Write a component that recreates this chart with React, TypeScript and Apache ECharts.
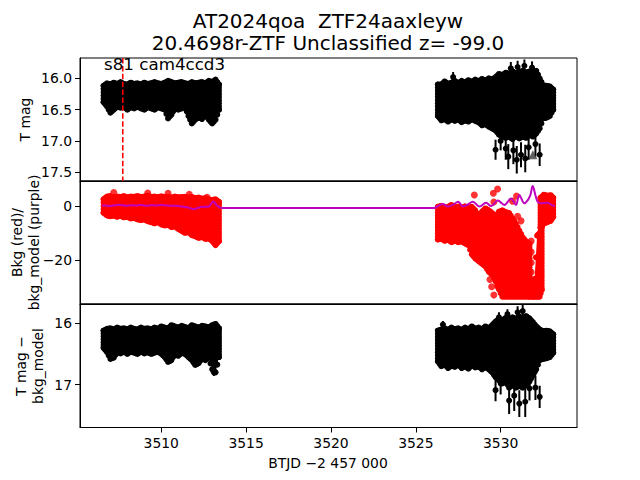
import React, { useEffect, useRef } from "react";
import * as echarts from "echarts";

// ---------- texts ----------
const TITLE_1 = "AT2024qoa  ZTF24aaxleyw";
const TITLE_2 = "20.4698r-ZTF Unclassified z= -99.0";
const SECTOR_LABEL = "s81 cam4ccd3";
const X_LABEL = "BTJD \u22122 457 000";
const Y_LABEL_TOP = "T mag";
const Y_LABEL_MID = "Bkg (red)/\nbkg_model (purple)";
const Y_LABEL_BOT = "T mag \u2212\nbkg_model";

// ---------- ticks ----------
const X_TICKS = [3510, 3515, 3520, 3525, 3530];
const Y_TICKS_TOP = [16.0, 16.5, 17.0, 17.5];
const Y_TICKS_MID = [-20, 0];
const Y_TICKS_BOT = [16, 17];

// ---------- sector start marker ----------
const SECTOR_START = 3507.73;

// ---------- time grids of the two orbits (envelopes of dense point clouds) ----------
const T_LEFT = [3506.6, 3506.8, 3507.0, 3507.2, 3507.4, 3507.6, 3507.8, 3508.0, 3508.2, 3508.4, 3508.6, 3508.8, 3509.0, 3509.2, 3509.4, 3509.6, 3509.8, 3510.0, 3510.2, 3510.4, 3510.6, 3510.8, 3511.0, 3511.2, 3511.4, 3511.6, 3511.8, 3512.0, 3512.2, 3512.4, 3512.6, 3512.8, 3513.0, 3513.2, 3513.4];
const T_RIGHT = [3526.3, 3526.5, 3526.7, 3526.9, 3527.1, 3527.3, 3527.5, 3527.7, 3527.9, 3528.1, 3528.3, 3528.5, 3528.7, 3528.9, 3529.1, 3529.3, 3529.5, 3529.7, 3529.9, 3530.1, 3530.3, 3530.5, 3530.7, 3530.9, 3531.1, 3531.3, 3531.5, 3531.7, 3531.9, 3532.1, 3532.3, 3532.5, 3532.7, 3532.9, 3533.1];

// ---------- top panel: T mag envelope ----------
const TOP_LEFT_HI = [16.12, 16.08, 16.1, 16.07, 16.09, 16.06, 16.09, 16.1, 16.07, 16.09, 16.08, 16.1, 16.07, 16.09, 16.08, 16.06, 16.08, 16.09, 16.07, 16.04, 16.06, 16.08, 16.07, 16.06, 16.08, 16.09, 16.06, 16.08, 16.07, 16.06, 16.08, 16.04, 16.06, 16.02, 16.1];
const TOP_LEFT_LO = [16.38, 16.45, 16.55, 16.5, 16.45, 16.47, 16.45, 16.5, 16.46, 16.48, 16.45, 16.48, 16.5, 16.46, 16.48, 16.5, 16.46, 16.48, 16.5, 16.64, 16.58, 16.48, 16.5, 16.48, 16.46, 16.6, 16.72, 16.66, 16.62, 16.65, 16.58, 16.66, 16.72, 16.66, 16.5];
const TOP_RIGHT_HI = [16.1, 16.1, 16.05, 16.09, 16.07, 16.04, 16.08, 16.04, 16.07, 16.03, 16.06, 16.02, 16.05, 16.01, 16.04, 16.0, 16.02, 15.98, 15.93, 15.95, 15.91, 15.93, 15.89, 15.92, 15.9, 15.88, 15.91, 15.89, 15.91, 15.88, 16.0, 16.11, 16.12, 16.13, 16.18];
const TOP_RIGHT_LO = [16.6, 16.67, 16.65, 16.69, 16.65, 16.68, 16.65, 16.7, 16.67, 16.69, 16.65, 16.68, 16.7, 16.75, 16.73, 16.77, 16.8, 16.83, 16.9, 16.92, 16.95, 16.93, 16.97, 16.92, 16.96, 16.93, 16.95, 16.9, 16.93, 16.88, 16.8, 16.64, 16.63, 16.6, 16.5];
// isolated points with error bars: [time, mag, error]
const TOP_ERR_POINTS = [
  [3527.2, 15.98, 0.08], [3529.7, 17.14, 0.16], [3530.0, 17.0, 0.15], [3530.3, 17.12, 0.18],
  [3530.45, 17.25, 0.2], [3530.75, 17.15, 0.22], [3530.95, 17.3, 0.22], [3531.2, 17.22, 0.2],
  [3531.45, 17.28, 0.22], [3531.65, 17.1, 0.2], [3532.05, 17.05, 0.2], [3532.3, 17.22, 0.18],
  [3530.6, 15.84, 0.1], [3531.0, 15.82, 0.1], [3531.4, 15.8, 0.1], [3531.85, 15.83, 0.1],
];
const TOP_TRIANGLE = [[3531.9, 17.22]];

// ---------- middle panel: background (red) envelope ----------
const MID_LEFT_HI = [2.5, 3.5, 3.7, 3.2, 3.5, 3.3, 3.7, 3.1, 3.5, 3.4, 3.7, 3.3, 3.5, 3.8, 3.4, 3.5, 3.2, 3.6, 3.3, 3.4, 3.1, 3.5, 3.2, 3.3, 3.4, 3.1, 3.3, 2.9, 3.1, 2.7, 2.9, 2.4, 2.2, 2.5, 1.5];
const MID_LEFT_LO = [-2.5, -3.5, -3.8, -3.5, -4.0, -3.6, -4.2, -4.0, -4.6, -4.4, -5.0, -5.2, -5.0, -5.6, -6.0, -6.4, -6.0, -6.8, -7.2, -7.0, -7.8, -7.5, -8.5, -9.2, -10.0, -9.6, -10.8, -11.2, -11.8, -11.5, -12.2, -12.0, -13.0, -14.5, -13.0];
const T_MID_A = [3526.3, 3526.5, 3526.7, 3526.9, 3527.1, 3527.3, 3527.5, 3527.7, 3527.9, 3528.1, 3528.3, 3528.5, 3528.7, 3528.9, 3529.1, 3529.3, 3529.5, 3529.7, 3529.9, 3530.1, 3530.3, 3530.5, 3530.7, 3530.9, 3531.1, 3531.3, 3531.5, 3531.7];
const MID_A_HI = [-0.3, 0.1, -0.6, -0.3, 0.4, -0.5, -0.2, -0.8, -0.1, -0.6, -0.3, -1.6, -3.6, -2.1, -0.9, -1.6, -2.6, -3.9, -2.1, -1.6, -2.3, -2.6, -4.6, -6.6, -9.1, -11.6, -13.1, -14.0];
const MID_A_LO = [-12.4, -12.1, -12.9, -12.4, -13.4, -12.9, -13.4, -13.1, -13.9, -14.5, -17.9, -19.4, -20.4, -21.4, -22.4, -24.4, -25.4, -27.9, -30.9, -33.6, -33.6, -33.6, -33.6, -33.6, -33.6, -33.6, -33.6, -33.6];
const T_MID_B = [3531.85, 3532.0, 3532.15, 3532.3, 3532.42];
const MID_B_HI = [-28.0, -27.0, -11.0, -10.0, -8.0];
const MID_B_LO = [-33.6, -33.6, -33.6, -33.6, -31.0];
const T_MID_C = [3532.35, 3532.55, 3532.75, 3532.95, 3533.1];
const MID_C_HI = [3.0, 4.2, 3.8, 4.0, 3.0];
const MID_C_LO = [-8.0, -6.5, -6.0, -5.5, -4.0];
// isolated background points: [time, value]
const MID_POINTS = [
  [3507.2, 5.0], [3509.2, 4.8], [3510.4, 4.7], [3511.65, 4.3], [3512.7, 3.2],
  [3528.45, 4.1], [3529.57, 4.7], [3529.82, 6.3], [3529.6, 1.5], [3530.94, 3.7], [3530.7, 1.8],
  [3531.0, -3.8], [3531.2, -5.5], [3529.37, -27.2], [3529.47, -29.9], [3529.6, -33.0],
  [3529.85, -30.0], [3531.8, -13.0], [3531.8, -17.0], [3531.8, -21.0], [3531.8, -24.5],
];
// background model (purple)
const MODEL_T = [3506.5, 3506.7, 3507.0, 3507.3, 3507.6, 3507.9, 3508.2, 3508.5, 3508.8, 3509.1, 3509.4, 3509.7, 3510.0, 3510.3, 3510.7, 3511.0, 3511.3, 3511.6, 3511.9, 3512.2, 3512.5, 3512.8, 3513.06, 3513.26, 3513.45, 3513.6, 3526.1, 3526.3, 3526.6, 3526.9, 3527.2, 3527.5, 3527.77, 3528.05, 3528.36, 3528.75, 3529.14, 3529.44, 3529.83, 3530.22, 3530.61, 3530.9, 3531.1, 3531.4, 3531.6, 3531.75, 3531.89, 3532.05, 3532.18, 3532.38, 3532.77, 3533.06, 3533.2];
const MODEL_V = [0.3, 0.2, 0.0, 0.3, 0.5, 0.1, 0.3, 0.2, 0.4, 0.1, 0.3, 0.2, 0.4, 0.2, 0.1, 0.0, -0.3, -0.6, -1.2, -0.6, -0.3, -0.2, 1.7, 0.3, -0.6, -0.7, -0.7, 0.0, 0.7, -0.2, 0.5, 1.6, -0.2, 0.5, 1.6, -0.2, 1.2, 0.0, 2.0, 0.4, 2.8, 0.4, 4.1, 1.0, 2.2, 4.0, 7.4, 4.0, 1.6, 1.0, 1.2, 0.2, 0.0];

// ---------- bottom panel: T mag - bkg_model envelope ----------
const BOT_LEFT_HI = [16.12, 16.09, 16.08, 16.1, 16.07, 16.09, 16.08, 16.1, 16.07, 16.09, 16.1, 16.07, 16.09, 16.08, 16.1, 16.07, 16.09, 16.05, 16.07, 16.08, 16.03, 16.05, 16.07, 16.04, 16.06, 16.08, 16.03, 16.05, 16.07, 16.04, 16.05, 16.07, 16.03, 16.01, 16.08];
const BOT_LEFT_LO = [16.4, 16.47, 16.58, 16.56, 16.47, 16.49, 16.46, 16.5, 16.46, 16.48, 16.5, 16.46, 16.49, 16.47, 16.5, 16.48, 16.46, 16.5, 16.55, 16.63, 16.6, 16.5, 16.53, 16.48, 16.5, 16.55, 16.6, 16.68, 16.65, 16.57, 16.6, 16.56, 16.75, 16.8, 16.55];
const BOT_RIGHT_HI = [16.12, 16.1, 16.08, 16.11, 16.07, 16.1, 16.08, 16.11, 16.07, 16.1, 16.05, 16.09, 16.07, 16.1, 16.05, 16.08, 16.03, 15.97, 15.93, 15.95, 15.91, 15.94, 15.9, 15.93, 15.89, 15.92, 15.88, 15.92, 15.98, 16.05, 16.1, 16.13, 16.12, 16.13, 16.18];
const BOT_RIGHT_LO = [16.62, 16.7, 16.67, 16.73, 16.69, 16.71, 16.67, 16.73, 16.7, 16.74, 16.68, 16.72, 16.7, 16.75, 16.71, 16.75, 16.8, 16.88, 16.93, 16.98, 16.95, 17.05, 17.0, 17.05, 17.02, 17.05, 17.0, 16.95, 16.85, 16.75, 16.6, 16.58, 16.57, 16.55, 16.48];
const BOT_ERR_POINTS = [
  [3526.6, 16.02, 0.06], [3513.1, 16.8, 0.06], [3529.7, 17.09, 0.18], [3530.0, 16.98, 0.18],
  [3530.5, 17.26, 0.22], [3530.8, 17.18, 0.25], [3531.1, 17.31, 0.22], [3531.45, 17.28, 0.25],
  [3531.7, 17.06, 0.2], [3532.05, 17.05, 0.2], [3532.3, 17.2, 0.18], [3530.4, 15.85, 0.08],
  [3531.0, 15.82, 0.1], [3531.3, 15.8, 0.1], [3529.9, 15.9, 0.08],
];

// ---------- axis ranges ----------
const X_MIN = 3505.21;
const X_MAX = 3534.5;
const Y_TOP_RANGE = [15.676, 17.639];
const Y_MID_RANGE = [-36.3, 9.26];
const Y_BOT_RANGE = [15.684, 17.70];

const FONT = "DejaVu Sans";

type Band = { t: number[]; hi: number[]; lo: number[] };

function bandSeries(bands: Band[], gi: number, color: string, r: number) {
  return {
    type: "custom",
    xAxisIndex: gi,
    yAxisIndex: gi,
    silent: true,
    clip: true,
    encode: { x: 0, y: 1 },
    data: bands.map((b, i) => [b.t[0], b.hi[0], i]),
    renderItem: (_p: any, api: any) => {
      const b = bands[api.value(2)];
      const top = b.t.map((t, k) => api.coord([t, b.hi[k]]));
      const bot = b.t.map((t, k) => api.coord([t, b.lo[k]]));
      const pts = top.concat(bot.slice().reverse());
      const children: any[] = [
        { type: "polygon", shape: { points: pts }, style: { fill: color } },
      ];
      const edge = (arr: number[][]) => {
        for (let k = 0; k < arr.length; k++) {
          children.push({ type: "circle", shape: { cx: arr[k][0], cy: arr[k][1], r }, style: { fill: color } });
          if (k + 1 < arr.length) {
            const mx = (arr[k][0] + arr[k + 1][0]) / 2;
            const my = (arr[k][1] + arr[k + 1][1]) / 2;
            children.push({ type: "circle", shape: { cx: mx, cy: my, r }, style: { fill: color } });
          }
        }
      };
      edge(top);
      edge(bot);
      const n = top.length - 1;
      [[top[0], bot[0]], [top[n], bot[n]]].forEach(([a, c]) => {
        const steps = Math.max(1, Math.round(Math.abs(c[1] - a[1]) / 3));
        for (let s = 0; s <= steps; s++) {
          children.push({
            type: "circle",
            shape: { cx: a[0] + ((c[0] - a[0]) * s) / steps, cy: a[1] + ((c[1] - a[1]) * s) / steps, r },
            style: { fill: color },
          });
        }
      });
      return { type: "group", children };
    },
  };
}

function errSeries(points: number[][], gi: number) {
  return {
    type: "custom",
    xAxisIndex: gi,
    yAxisIndex: gi,
    silent: true,
    clip: true,
    encode: { x: 0, y: 1 },
    data: points,
    renderItem: (_p: any, api: any) => {
      const t = api.value(0), m = api.value(1), e = api.value(2);
      const a = api.coord([t, m - e]);
      const b = api.coord([t, m + e]);
      const c = api.coord([t, m]);
      return {
        type: "group",
        children: [
          { type: "line", shape: { x1: a[0], y1: a[1], x2: b[0], y2: b[1] }, style: { stroke: "#000", lineWidth: 2 } },
          { type: "circle", shape: { cx: c[0], cy: c[1], r: 3 }, style: { fill: "#000" } },
        ],
      };
    },
  };
}

const labelStyle = { fontFamily: FONT, fontSize: 13.9, color: "#000" };
const minus = (v: number) => (v < 0 ? "\u2212" + Math.abs(v) : String(v));

function xAxis(gi: number) {
  const show = gi === 2;
  return {
    type: "value",
    gridIndex: gi,
    min: X_MIN,
    max: X_MAX,
    splitLine: { show: false },
    axisLine: { show: true, onZero: false, lineStyle: { color: "#000", width: 1 } },
    axisTick: { show, customValues: X_TICKS, length: 5, lineStyle: { color: "#000", width: 1 } },
    axisLabel: { show, customValues: X_TICKS, margin: 8, ...labelStyle, formatter: (v: number) => String(v) },
  };
}

function yAxis(gi: number, range: number[], ticks: number[], inverse: boolean, fmt: (v: number) => string) {
  return {
    type: "value",
    gridIndex: gi,
    min: range[0],
    max: range[1],
    inverse,
    splitLine: { show: false },
    axisLine: { show: true, onZero: false, lineStyle: { color: "#000", width: 1 } },
    axisTick: { show: true, customValues: ticks, length: 5, lineStyle: { color: "#000", width: 1 } },
    axisLabel: { show: true, customValues: ticks, margin: 8, ...labelStyle, formatter: fmt },
  };
}

function buildOption() {
  const gridBase = { left: 80, width: 497, show: true, borderColor: "#000", borderWidth: 1, backgroundColor: "transparent" };
  return {
    animation: false,
    backgroundColor: "#fff",
    grid: [
      { ...gridBase, top: 58, height: 123 },
      { ...gridBase, top: 181, height: 123 },
      { ...gridBase, top: 304, height: 123.5 },
    ],
    xAxis: [xAxis(0), xAxis(1), xAxis(2)],
    yAxis: [
      yAxis(0, Y_TOP_RANGE, Y_TICKS_TOP, true, (v: number) => v.toFixed(1)),
      yAxis(1, Y_MID_RANGE, Y_TICKS_MID, false, minus),
      yAxis(2, Y_BOT_RANGE, Y_TICKS_BOT, true, (v: number) => String(v)),
    ],
    graphic: [
      { type: "text", x: 328, y: 21, style: { text: TITLE_1, fontFamily: FONT, fontSize: 20, fill: "#000", align: "center", verticalAlign: "middle" } },
      { type: "text", x: 328, y: 43, style: { text: TITLE_2, fontFamily: FONT, fontSize: 20, fill: "#000", align: "center", verticalAlign: "middle" } },
      { type: "text", x: 104, y: 64, z: 100, style: { text: SECTOR_LABEL, fontFamily: FONT, fontSize: 16.7, fill: "#000", align: "left", verticalAlign: "middle" } },
      { type: "text", x: 328, y: 463, style: { text: X_LABEL, fontFamily: FONT, fontSize: 13.9, fill: "#000", align: "center", verticalAlign: "middle" } },
      { type: "text", x: 25, y: 119.5, rotation: Math.PI / 2, style: { text: Y_LABEL_TOP, fontFamily: FONT, fontSize: 13.9, fill: "#000", align: "center", verticalAlign: "middle" } },
      { type: "text", x: 25.5, y: 242.5, rotation: Math.PI / 2, style: { text: Y_LABEL_MID, fontFamily: FONT, fontSize: 13.9, lineHeight: 17, fill: "#000", align: "center", verticalAlign: "middle" } },
      { type: "text", x: 29.5, y: 366, rotation: Math.PI / 2, style: { text: Y_LABEL_BOT, fontFamily: FONT, fontSize: 13.9, lineHeight: 17, fill: "#000", align: "center", verticalAlign: "middle" } },
    ],
    series: [
      bandSeries(
        [
          { t: T_LEFT, hi: TOP_LEFT_HI, lo: TOP_LEFT_LO },
          { t: T_RIGHT, hi: TOP_RIGHT_HI, lo: TOP_RIGHT_LO },
        ],
        0, "#000", 3
      ),
      errSeries(TOP_ERR_POINTS, 0),
      {
        type: "scatter", xAxisIndex: 0, yAxisIndex: 0, silent: true, symbol: "triangle", symbolSize: 9,
        itemStyle: { color: "#3a3a3a" }, data: TOP_TRIANGLE,
      },
      {
        type: "line", xAxisIndex: 0, yAxisIndex: 0, silent: true, showSymbol: false, z: 5,
        lineStyle: { color: "#ff0000", width: 1.6, type: [5.5, 2.4] },
        data: [[SECTOR_START, Y_TOP_RANGE[0]], [SECTOR_START, Y_TOP_RANGE[1]]],
      },
      bandSeries(
        [
          { t: T_LEFT, hi: MID_LEFT_HI, lo: MID_LEFT_LO },
          { t: T_MID_A, hi: MID_A_HI, lo: MID_A_LO },
          { t: T_MID_B, hi: MID_B_HI, lo: MID_B_LO },
          { t: T_MID_C, hi: MID_C_HI, lo: MID_C_LO },
        ],
        1, "#ff0000", 3
      ),
      {
        type: "scatter", xAxisIndex: 1, yAxisIndex: 1, silent: true, symbol: "circle", symbolSize: 7,
        itemStyle: { color: "#ff0000" }, data: MID_POINTS,
      },
      {
        type: "line", xAxisIndex: 1, yAxisIndex: 1, silent: true, showSymbol: false, z: 6, smooth: 0.35,
        lineStyle: { color: "#bf00bf", width: 2 },
        data: MODEL_T.map((t, i) => [t, MODEL_V[i]]),
      },
      bandSeries(
        [
          { t: T_LEFT, hi: BOT_LEFT_HI, lo: BOT_LEFT_LO },
          { t: T_RIGHT, hi: BOT_RIGHT_HI, lo: BOT_RIGHT_LO },
        ],
        2, "#000", 3
      ),
      errSeries(BOT_ERR_POINTS, 2),
    ],
  };
}

export default function App() {
  const ref = useRef<HTMLDivElement>(null);
  useEffect(() => {
    const chart = echarts.init(ref.current as HTMLDivElement, null, { renderer: "svg" });
    chart.setOption(buildOption() as any);
    return () => chart.dispose();
  }, []);
  return (
    <div
      ref={ref}
      style={{ position: "fixed", left: 0, top: 0, width: 640, height: 480, background: "#fff" }}
    />
  );
}
